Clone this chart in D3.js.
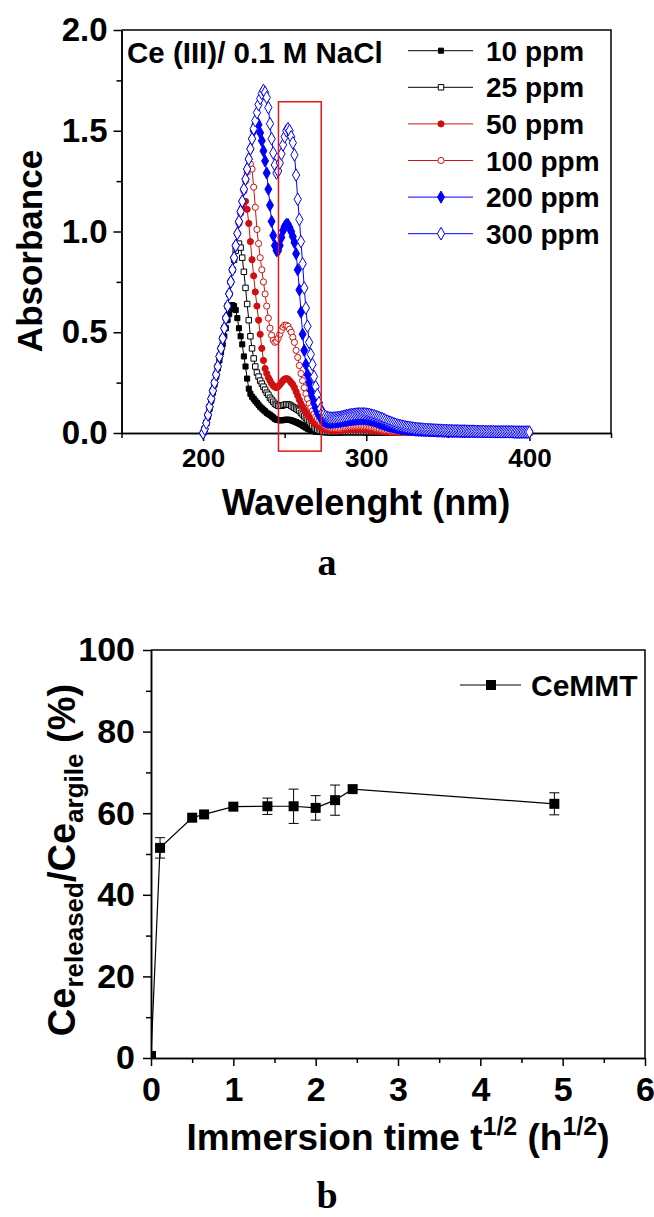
<!DOCTYPE html>
<html><head><meta charset="utf-8">
<script src="https://cdn.jsdelivr.net/npm/d3@7"></script>
<style>
html,body{margin:0;padding:0;background:#fff;}
svg{display:block;}
text{font-family:"Liberation Sans",Arial,sans-serif;font-weight:bold;fill:#000;}
.serif{font-family:"Liberation Serif","Times New Roman",serif;}
</style></head><body>
<svg id="chart" width="654" height="1217"></svg>
<script>
// ---------- Panel a: UV-vis spectra (1 nm sampling grid 200-400 nm) ----------
const wavelengths = d3.range(200, 401);
const seriesLabels = ["10 ppm", "25 ppm", "50 ppm", "100 ppm", "200 ppm", "300 ppm"];
const seriesColors = ["#000000", "#000000", "#d01010", "#d01010", "#0000ff", "#0000ff"];
const abs10 = [
0,.02,.05,.08,.12,.16,.20,.24,.28,.32,
.36,.40,.44,.48,.52,.56,.59,.615,.635,.63,
.61,.57,.52,.48,.44,.38,.33,.27,.22,.195,
.18,.17,.16,.15,.14,.13,.122,.115,.108,.10,
.095,.09,.083,.077,.07,.066,.064,.063,.063,.064,
.065,.066,.066,.065,.063,.06,.057,.054,.05,.046,
.042,.037,.032,.027,.022,.018,.014,.011,.009,.007,
.006,.005,.005,.004,.004,.004,.003,.003,.003,.003,
.003,.003,.003,.003,.003,.003,.003,.004,.004,.004,
.004,.004,.004,.004,.004,.004,.004,.004,.004,.003,
.003,.003,.003,.003,.003,.003,.003,.003,.003,.003,
.003,.003,.003,.003,.002,.002,.002,.002,.002,.002,
.002,.002,.002,.002,.002,.002,.002,.002,.002,.002,
.002,.002,.002,.002,.002,.002,.002,.002,.002,.002,
.002,.002,.002,.002,.002,.002,.002,.002,.002,.002,
.002,.002,.002,.002,.002,.002,.002,.002,.002,.002,
.002,.002,.002,.002,.002,.002,.002,.002,.002,.002,
.002,.002,.002,.002,.002,.002,.002,.002,.002,.002,
.002,.002,.002,.002,.002,.001,.001,.001,.001,.001,
.001,.001,.001,.001,.001,.001,.001,.001,.001,.001,
.001];
const abs25 = [
0,.02,.05,.09,.13,.17,.21,.25,.29,.33,
.38,.42,.47,.52,.57,.63,.69,.75,.81,.86,
.905,.93,.94,.92,.87,.80,.72,.64,.56,.48,
.42,.37,.33,.30,.28,.26,.245,.23,.215,.20,
.19,.175,.165,.155,.145,.14,.135,.135,.135,.138,
.14,.142,.142,.14,.135,.13,.125,.12,.115,.11,
.10,.092,.083,.074,.065,.055,.045,.036,.028,.021,
.016,.012,.01,.008,.007,.006,.005,.005,.004,.004,
.004,.004,.004,.004,.005,.005,.005,.005,.005,.005,
.005,.005,.005,.005,.005,.005,.005,.005,.005,.005,
.005,.005,.005,.004,.004,.004,.004,.004,.004,.004,
.004,.003,.003,.003,.003,.003,.003,.003,.003,.003,
.003,.003,.003,.003,.003,.003,.003,.003,.003,.003,
.003,.003,.003,.003,.003,.003,.003,.003,.003,.003,
.003,.003,.003,.003,.003,.002,.002,.002,.002,.002,
.002,.002,.002,.002,.002,.002,.002,.002,.002,.002,
.002,.002,.002,.002,.002,.002,.002,.002,.002,.002,
.002,.002,.002,.002,.002,.002,.002,.002,.002,.002,
.002,.002,.002,.002,.002,.002,.002,.002,.002,.002,
.002,.002,.002,.002,.002,.002,.002,.002,.002,.002,
.002];
const abs50 = [
0,.02,.05,.09,.13,.17,.21,.25,.29,.33,
.38,.42,.47,.52,.57,.63,.69,.75,.81,.87,
.93,.99,1.04,1.09,1.12,1.145,1.15,1.11,1.04,.95,
.86,.78,.70,.63,.56,.49,.42,.36,.32,.295,
.275,.26,.245,.235,.228,.225,.23,.24,.25,.26,
.268,.27,.268,.26,.25,.24,.225,.205,.185,.165,
.145,.13,.115,.10,.09,.08,.07,.06,.05,.045,
.04,.033,.028,.024,.02,.018,.016,.015,.014,.013,
.013,.013,.013,.014,.014,.015,.015,.016,.016,.017,
.017,.018,.018,.018,.018,.018,.018,.018,.017,.017,
.016,.016,.015,.014,.013,.012,.011,.010,.009,.008,
.008,.007,.006,.006,.005,.005,.004,.004,.004,.003,
.003,.003,.003,.003,.003,.003,.003,.003,.003,.003,
.003,.003,.003,.003,.003,.003,.003,.003,.003,.003,
.003,.003,.003,.003,.003,.003,.003,.003,.003,.003,
.002,.002,.002,.002,.002,.002,.002,.002,.002,.002,
.002,.002,.002,.002,.002,.002,.002,.002,.002,.002,
.002,.002,.002,.002,.002,.002,.002,.002,.002,.002,
.002,.002,.002,.002,.002,.002,.002,.002,.002,.002,
.002,.002,.002,.002,.002,.002,.002,.002,.002,.002,
.002];
const abs100 = [
0,.02,.05,.09,.13,.17,.21,.25,.29,.33,
.38,.42,.47,.52,.57,.63,.69,.75,.81,.87,
.93,.99,1.05,1.10,1.15,1.20,1.25,1.295,1.325,1.335,
1.31,1.22,1.12,1.01,.94,.87,.81,.75,.69,.63,
.57,.52,.485,.46,.45,.455,.47,.49,.51,.525,
.535,.535,.53,.515,.50,.475,.45,.41,.375,.335,
.295,.26,.225,.195,.17,.145,.125,.11,.095,.08,
.07,.06,.05,.045,.038,.033,.029,.026,.024,.022,
.021,.021,.021,.022,.023,.024,.026,.027,.028,.029,
.03,.031,.032,.032,.033,.033,.033,.033,.032,.032,
.031,.03,.029,.027,.026,.024,.022,.02,.018,.016,
.015,.013,.012,.011,.01,.009,.008,.007,.006,.006,
.005,.005,.005,.004,.004,.004,.004,.003,.003,.003,
.003,.003,.003,.003,.003,.003,.003,.003,.003,.003,
.003,.003,.003,.003,.003,.003,.003,.003,.003,.003,
.003,.003,.003,.003,.003,.003,.003,.003,.003,.003,
.003,.003,.003,.003,.003,.002,.002,.002,.002,.002,
.002,.002,.002,.002,.002,.002,.002,.002,.002,.002,
.002,.002,.002,.002,.002,.002,.002,.002,.002,.002,
.002,.002,.002,.002,.002,.002,.002,.002,.002,.002,
.002];
const abs200 = [
0,.02,.05,.09,.13,.17,.21,.25,.29,.33,
.38,.42,.47,.52,.57,.63,.69,.75,.81,.87,
.93,.99,1.05,1.10,1.15,1.21,1.26,1.31,1.36,1.41,
1.46,1.50,1.53,1.545,1.53,1.49,1.45,1.40,1.35,1.29,
1.21,1.13,1.05,.98,.93,.905,.905,.93,.97,1.005,
1.025,1.035,1.035,1.02,1.00,.975,.945,.89,.81,.71,
.60,.49,.41,.34,.29,.25,.21,.18,.15,.125,
.105,.09,.075,.065,.06,.055,.053,.052,.052,.052,
.053,.054,.055,.056,.057,.058,.06,.061,.062,.064,
.065,.066,.067,.068,.069,.07,.07,.07,.07,.07,
.069,.068,.066,.064,.062,.06,.057,.054,.051,.048,
.045,.042,.04,.037,.035,.033,.031,.029,.027,.025,
.024,.022,.021,.02,.019,.018,.017,.016,.015,.015,
.014,.014,.013,.013,.012,.012,.011,.011,.011,.01,
.01,.01,.01,.009,.009,.009,.009,.008,.008,.008,
.008,.008,.007,.007,.007,.007,.007,.007,.006,.006,
.006,.006,.006,.006,.006,.006,.006,.006,.006,.006,
.005,.005,.005,.005,.005,.005,.005,.005,.005,.005,
.005,.005,.005,.005,.005,.005,.005,.005,.005,.005,
.004,.004,.004,.004,.004,.004,.004,.004,.004,.004,
.004];
const abs300 = [
0,.02,.05,.09,.13,.17,.21,.25,.29,.33,
.38,.42,.47,.52,.57,.63,.69,.75,.81,.87,
.93,.99,1.05,1.10,1.15,1.21,1.26,1.31,1.36,1.41,
1.46,1.51,1.55,1.59,1.63,1.66,1.685,1.70,1.69,1.665,
1.615,1.535,1.46,1.39,1.33,1.29,1.30,1.34,1.385,1.43,
1.47,1.50,1.51,1.50,1.47,1.44,1.38,1.28,1.16,1.06,
.95,.84,.72,.62,.53,.45,.39,.34,.28,.23,
.19,.15,.12,.10,.09,.083,.078,.075,.074,.074,
.074,.075,.076,.077,.078,.08,.082,.084,.086,.088,
.09,.091,.092,.093,.094,.095,.095,.095,.095,.095,
.094,.093,.091,.089,.087,.085,.082,.079,.076,.073,
.07,.066,.062,.058,.055,.052,.049,.046,.043,.04,
.038,.036,.034,.032,.03,.029,.028,.026,.025,.024,
.023,.022,.021,.02,.02,.019,.018,.018,.017,.017,
.016,.016,.015,.015,.014,.014,.014,.013,.013,.013,
.012,.012,.012,.011,.011,.011,.011,.01,.01,.01,
.01,.01,.009,.009,.009,.009,.009,.008,.008,.008,
.008,.008,.008,.007,.007,.007,.007,.007,.007,.006,
.006,.006,.006,.006,.006,.006,.006,.006,.006,.006,
.006,.005,.005,.005,.005,.005,.005,.005,.005,.005,
.005];
const absSeries = [abs10, abs25, abs50, abs100, abs200, abs300];
const absTickValues = [0, 0.5, 1.0, 1.5, 2.0];
const absMinorTicks = [0.25, 0.75, 1.25, 1.75];
const wlTickValues = [200, 300, 400];
const wlMinorTicks = [150, 250, 350, 450];
const highlightBox = {x0: 246.2, x1: 272.4, y0: -0.09, y1: 1.644};

// ---------- Panel b: release kinetics ----------
const timeSqrt = [0, 0.11, 0.5, 0.645, 1.0, 1.414, 1.732, 2.0, 2.236, 2.449, 4.899];
const releasedPct = [0.5, 51.5, 58.9, 59.7, 61.6, 61.7, 61.7, 61.3, 63.2, 65.9, 62.3];
const releasedErr = [0, 2.5, 0, 0, 0, 2.0, 4.2, 3.0, 3.7, 0, 2.7];
const timeTickValues = [0, 1, 2, 3, 4, 5, 6];
const timeMinorTicks = [0.5, 1.5, 2.5, 3.5, 4.5, 5.5];
const pctTickValues = [0, 20, 40, 60, 80, 100];
const pctMinorTicks = [10, 30, 50, 70, 90];

const svg = d3.select("#chart");

function styleAxis(g, fontSize) {
  g.select(".domain").attr("stroke", "#000").attr("stroke-width", 1.5);
  g.selectAll(".tick line").attr("stroke", "#000").attr("stroke-width", 1.5);
  g.selectAll(".tick text").attr("font-size", fontSize).attr("fill", "#000")
    .attr("font-family", '"Liberation Sans",Arial,sans-serif').attr("font-weight", "bold");
}

// ===== Panel a =====
const xA = d3.scaleLinear().domain([150, 450]).range([121.5, 611]);
const yA = d3.scaleLinear().domain([0, 2]).range([433, 30]);

svg.append("path").attr("d", `M${xA(150)},${yA(2)}H${xA(450)}V${yA(0)}`)
  .attr("fill", "none").attr("stroke", "#000").attr("stroke-width", 1.5);

const gxA = svg.append("g").attr("transform", `translate(0,${yA(0)})`)
  .call(d3.axisBottom(xA).tickValues(wlTickValues).tickSize(8).tickSizeOuter(0).tickPadding(8).tickFormat(d3.format("d")));
styleAxis(gxA, 26);
const gxAm = svg.append("g").attr("transform", `translate(0,${yA(0)})`)
  .call(d3.axisBottom(xA).tickValues(wlMinorTicks).tickSize(5).tickSizeOuter(0).tickFormat(""));
styleAxis(gxAm, 10);
const gyA = svg.append("g").attr("transform", `translate(${xA(150)},0)`)
  .call(d3.axisLeft(yA).tickValues(absTickValues).tickSize(8).tickSizeOuter(0).tickPadding(6).tickFormat(d3.format(".1f")));
styleAxis(gyA, 33);
const gyAm = svg.append("g").attr("transform", `translate(${xA(150)},0)`)
  .call(d3.axisLeft(yA).tickValues(absMinorTicks).tickSize(5).tickSizeOuter(0).tickFormat(""));
styleAxis(gyAm, 10);

const symbolTypes = [d3.symbolSquare, d3.symbolSquare, d3.symbolCircle, d3.symbolCircle, d3.symbolDiamond, d3.symbolDiamond];
const symbolSizes = [26, 30, 30, 30, 42, 46];
const symbolFilled = [true, false, true, false, true, false];

const lineA = d3.line().x((d, i) => xA(wavelengths[i])).y(d => yA(d));
absSeries.forEach((vals, s) => {
  const g = svg.append("g");
  g.append("path").attr("d", lineA(vals)).attr("fill", "none")
    .attr("stroke", seriesColors[s]).attr("stroke-width", 1);
  const sym = d3.symbol().type(symbolTypes[s]).size(symbolSizes[s]);
  g.selectAll("path.m").data(vals).join("path").attr("class", "m")
    .attr("transform", (d, i) => `translate(${xA(wavelengths[i])},${yA(d)})`)
    .attr("d", sym)
    .attr("fill", symbolFilled[s] ? seriesColors[s] : "#fff")
    .attr("stroke", seriesColors[s]).attr("stroke-width", 1);
});

svg.append("rect")
  .attr("x", xA(highlightBox.x0)).attr("y", yA(highlightBox.y1))
  .attr("width", xA(highlightBox.x1) - xA(highlightBox.x0))
  .attr("height", yA(highlightBox.y0) - yA(highlightBox.y1))
  .attr("fill", "none").attr("stroke", "#e01818").attr("stroke-width", 1.5);

svg.append("text").attr("x", 127).attr("y", 63).attr("font-size", 29.5).text("Ce (III)/ 0.1 M NaCl");

seriesLabels.forEach((lab, s) => {
  const yy = 50.7 + s * 36.6;
  svg.append("line").attr("x1", 408).attr("x2", 473).attr("y1", yy).attr("y2", yy)
    .attr("stroke", seriesColors[s]).attr("stroke-width", 1);
  svg.append("path").attr("transform", `translate(441,${yy})`)
    .attr("d", d3.symbol().type(symbolTypes[s]).size(symbolSizes[s])())
    .attr("fill", symbolFilled[s] ? seriesColors[s] : "#fff")
    .attr("stroke", seriesColors[s]).attr("stroke-width", 1);
  svg.append("text").attr("x", 486).attr("y", yy + 10).attr("font-size", 28).text(lab);
});

svg.append("text").attr("transform", `translate(42,251) rotate(-90)`)
  .attr("text-anchor", "middle").attr("font-size", 35).text("Absorbance");
svg.append("text").attr("x", 366).attr("y", 515).attr("text-anchor", "middle")
  .attr("font-size", 36).text("Wavelenght (nm)");
svg.append("text").attr("class", "serif").attr("x", 327).attr("y", 575)
  .attr("text-anchor", "middle").attr("font-size", 38).text("a");

// ===== Panel b =====
const xB = d3.scaleLinear().domain([0, 6]).range([151, 645]);
const yB = d3.scaleLinear().domain([0, 100]).range([1058, 650]);

svg.append("path").attr("d", `M${xB(0)},${yB(100)}H${xB(6)}V${yB(0)}`)
  .attr("fill", "none").attr("stroke", "#000").attr("stroke-width", 1.5);

const gxB = svg.append("g").attr("transform", `translate(0,${yB(0)})`)
  .call(d3.axisBottom(xB).tickValues(timeTickValues).tickSize(8).tickSizeOuter(0).tickPadding(11).tickFormat(d3.format("d")));
styleAxis(gxB, 34);
const gxBm = svg.append("g").attr("transform", `translate(0,${yB(0)})`)
  .call(d3.axisBottom(xB).tickValues(timeMinorTicks).tickSize(5).tickSizeOuter(0).tickFormat(""));
styleAxis(gxBm, 10);
const gyB = svg.append("g").attr("transform", `translate(${xB(0)},0)`)
  .call(d3.axisLeft(yB).tickValues(pctTickValues).tickSize(8).tickSizeOuter(0).tickPadding(8).tickFormat(d3.format("d")));
styleAxis(gyB, 34);
const gyBm = svg.append("g").attr("transform", `translate(${xB(0)},0)`)
  .call(d3.axisLeft(yB).tickValues(pctMinorTicks).tickSize(5).tickSizeOuter(0).tickFormat(""));
styleAxis(gyBm, 10);

svg.append("clipPath").attr("id", "clipB").append("rect")
  .attr("x", xB(0)).attr("y", yB(100)).attr("width", xB(6) - xB(0)).attr("height", yB(0) - yB(100));

const pts = timeSqrt.map((t, i) => ({t, v: releasedPct[i], e: releasedErr[i]}));
const gB = svg.append("g").attr("clip-path", "url(#clipB)");
gB.append("path").attr("d", d3.line().x(d => xB(d.t)).y(d => yB(d.v))(pts))
  .attr("fill", "none").attr("stroke", "#000").attr("stroke-width", 1.2);
const eb = gB.selectAll("g.eb").data(pts.filter(d => d.e > 0)).join("g").attr("class", "eb");
eb.append("line").attr("x1", d => xB(d.t)).attr("x2", d => xB(d.t))
  .attr("y1", d => yB(d.v - d.e)).attr("y2", d => yB(d.v + d.e)).attr("stroke", "#000").attr("stroke-width", 1);
eb.append("line").attr("x1", d => xB(d.t) - 5).attr("x2", d => xB(d.t) + 5)
  .attr("y1", d => yB(d.v - d.e)).attr("y2", d => yB(d.v - d.e)).attr("stroke", "#000").attr("stroke-width", 1);
eb.append("line").attr("x1", d => xB(d.t) - 5).attr("x2", d => xB(d.t) + 5)
  .attr("y1", d => yB(d.v + d.e)).attr("y2", d => yB(d.v + d.e)).attr("stroke", "#000").attr("stroke-width", 1);
gB.selectAll("rect.m").data(pts).join("rect").attr("class", "m")
  .attr("x", d => xB(d.t) - 5).attr("y", d => yB(d.v) - 5).attr("width", 10).attr("height", 10)
  .attr("fill", "#000");

svg.append("line").attr("x1", 460).attr("x2", 521).attr("y1", 685).attr("y2", 685)
  .attr("stroke", "#000").attr("stroke-width", 1.2);
svg.append("rect").attr("x", 486).attr("y", 680).attr("width", 10).attr("height", 10).attr("fill", "#000");
svg.append("text").attr("x", 531).attr("y", 696).attr("font-size", 30).text("CeMMT");

const ty = svg.append("text").attr("transform", `translate(75,860) rotate(-90)`)
  .attr("text-anchor", "middle").attr("font-size", 38);
ty.append("tspan").text("Ce");
ty.append("tspan").attr("font-size", 26).attr("dy", 8).text("released");
ty.append("tspan").attr("dy", -8).text("/Ce");
ty.append("tspan").attr("font-size", 26).attr("dy", 8).text("argile");
ty.append("tspan").attr("dy", -8).text(" (%)");

const tx = svg.append("text").attr("x", 398).attr("y", 1150).attr("text-anchor", "middle").attr("font-size", 37);
tx.append("tspan").text("Immersion time t");
tx.append("tspan").attr("font-size", 25).attr("dy", -15).text("1/2");
tx.append("tspan").attr("dy", 15).text(" (h");
tx.append("tspan").attr("font-size", 25).attr("dy", -15).text("1/2");
tx.append("tspan").attr("dy", 15).text(")");

svg.append("text").attr("class", "serif").attr("x", 327).attr("y", 1208)
  .attr("text-anchor", "middle").attr("font-size", 38).text("b");
</script>
</body></html>
